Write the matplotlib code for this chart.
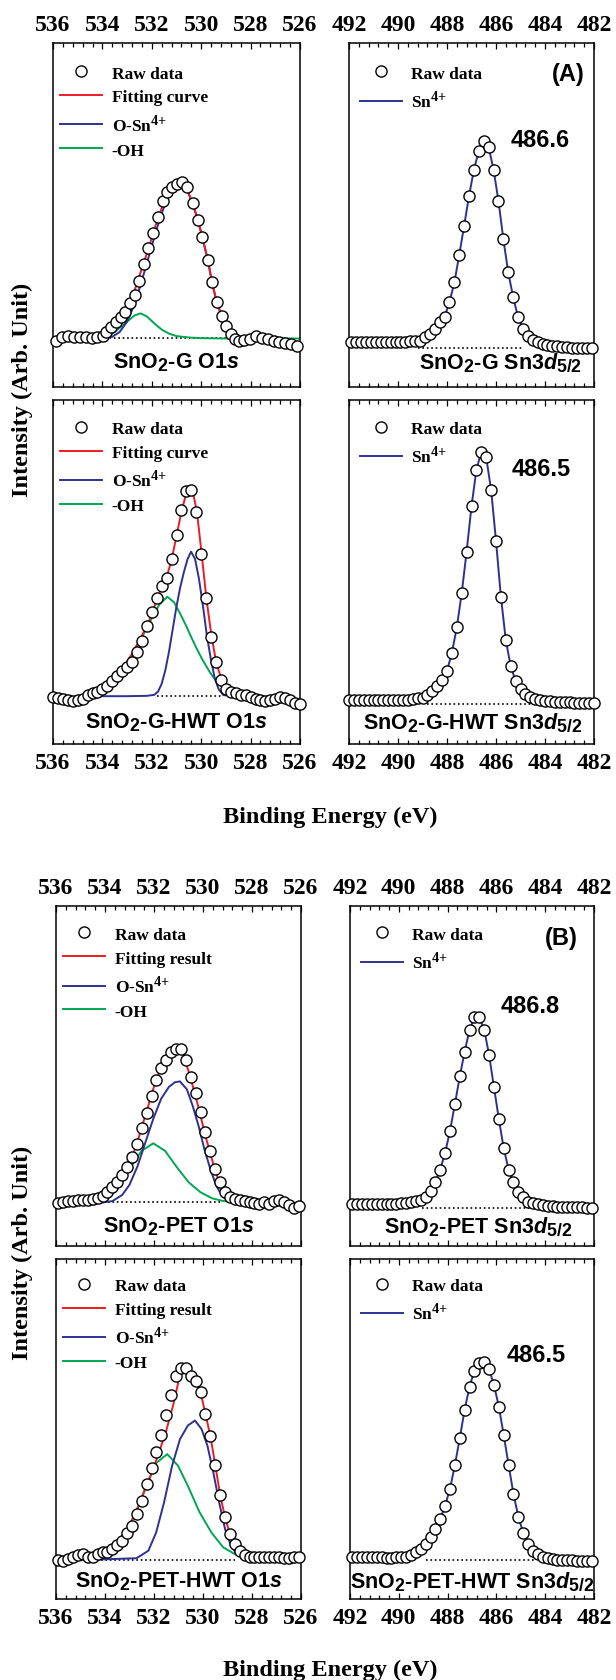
import matplotlib
matplotlib.use('Agg')
import matplotlib.pyplot as plt
import matplotlib._mathtext as mathtext_impl
from matplotlib.ticker import MultipleLocator

plt.rcParams['mathtext.fontset'] = 'custom'
plt.rcParams['mathtext.rm'] = 'Liberation Serif:bold'
plt.rcParams['mathtext.bf'] = 'Liberation Serif:bold'
plt.rcParams['mathtext.sf'] = 'Liberation Sans:bold'
plt.rcParams['mathtext.it'] = 'Liberation Sans:bold:italic'
# super/subscripts in the original are drawn nearly full size
mathtext_impl.SHRINK_FACTOR = 0.82

# ---- binding energy grids (eV) ----
be_o1s_g = [535.87, 535.63, 535.40, 535.16, 534.92, 534.68, 534.44, 534.20, 533.97, 533.86,
            533.65, 533.44, 533.25, 533.10, 532.89, 532.70, 532.51, 532.33, 532.14, 531.94,
            531.75, 531.54, 531.38, 531.19, 531.00, 530.79, 530.59, 530.35, 530.13, 529.95,
            529.73, 529.56, 529.37, 529.16, 529.00, 528.81, 528.65, 528.46, 528.25, 528.02,
            527.78, 527.54, 527.30, 527.06, 526.83, 526.59, 526.35, 526.14]
be_o1s_grid = [535.9, 535.7, 535.5, 535.3, 535.1, 534.9, 534.7, 534.5, 534.3, 534.1,
               533.9, 533.7, 533.5, 533.3, 533.1, 532.9, 532.7, 532.5, 532.3, 532.1,
               531.9, 531.7, 531.5, 531.3, 531.1, 530.9, 530.7, 530.5, 530.3, 530.1,
               529.9, 529.7, 529.5, 529.3, 529.1, 528.9, 528.7, 528.5, 528.3, 528.1,
               527.9, 527.7, 527.5, 527.3, 527.1, 526.9, 526.7, 526.5, 526.3, 526.1]
be_o1s_hwt = [536.0, 535.8, 535.6, 535.4, 535.2, 535.0, 534.8, 534.6, 534.4, 534.2,
              534.0, 533.8, 533.6, 533.4, 533.2, 533.0, 532.8, 532.6, 532.4, 532.2,
              532.0, 531.8, 531.6, 531.4, 531.2, 531.0, 530.8, 530.6, 530.4, 530.2,
              530.0, 529.8, 529.6, 529.4, 529.2, 529.0, 528.8, 528.6, 528.4, 528.2,
              528.0, 527.8, 527.6, 527.4, 527.2, 527.0, 526.8, 526.6, 526.4, 526.2, 526.0]
be_sn_grid = [491.9, 491.7, 491.5, 491.3, 491.1, 490.9, 490.7, 490.5, 490.3, 490.1,
              489.9, 489.7, 489.5, 489.3, 489.1, 488.9, 488.7, 488.5, 488.3, 488.1,
              487.9, 487.7, 487.5, 487.3, 487.1, 486.9, 486.7, 486.5, 486.3, 486.1,
              485.9, 485.7, 485.5, 485.3, 485.1, 484.9, 484.7, 484.5, 484.3, 484.1,
              483.9, 483.7, 483.5, 483.3, 483.1, 482.9, 482.7, 482.5, 482.3, 482.1]
be_sn_hwt = [492.0, 491.8, 491.6, 491.4, 491.2, 491.0, 490.8, 490.6, 490.4, 490.2,
             490.0, 489.8, 489.6, 489.4, 489.2, 489.0, 488.8, 488.6, 488.4, 488.2,
             488.0, 487.8, 487.6, 487.4, 487.2, 487.0, 486.8, 486.6, 486.4, 486.2,
             486.0, 485.8, 485.6, 485.4, 485.2, 485.0, 484.8, 484.6, 484.4, 484.2,
             484.0, 483.8, 483.6, 483.4, 483.2, 483.0, 482.8, 482.6, 482.4, 482.2, 482.0]

# ---- raw data (arb. units) ----
raw_o1s_g = [13.5, 14.4, 14.9, 14.4, 14.4, 14.4, 14.1, 14.4, 14.9, 15.9,
             17.3, 19.0, 20.3, 21.7, 24.4, 26.7, 30.8, 35.8, 40.3, 44.7,
             49.3, 54.2, 56.8, 58.0, 59.0, 59.7, 58.0, 53.5, 48.6, 43.5,
             37.0, 30.4, 24.8, 20.5, 17.8, 15.4, 14.0, 13.5, 13.8, 14.0,
             14.7, 14.1, 14.0, 13.5, 13.2, 12.8, 12.5, 11.8]
raw_sn_g = [13.0, 13.2, 13.2, 13.2, 13.2, 13.2, 13.2, 13.2, 13.2, 13.2,
            13.2, 13.2, 13.3, 13.3, 13.5, 14.4, 15.4, 16.9, 18.8, 20.4,
            24.6, 30.4, 38.4, 46.9, 55.6, 63.2, 68.7, 71.6, 69.7, 63.2,
            54.1, 43.0, 33.3, 26.1, 20.3, 16.9, 14.9, 13.8, 13.0, 12.5,
            12.2, 12.0, 11.8, 11.7, 11.5, 11.4, 11.4, 11.3, 11.3, 11.2]
raw_o1s_g_hwt = [13.6, 13.3, 13.1, 12.9, 12.6, 12.8, 13.1, 14.1, 14.8, 15.2,
                 16.0, 17.0, 18.4, 19.9, 21.3, 22.3, 23.7, 26.6, 30.0, 34.4,
                 38.3, 42.3, 46.0, 48.4, 53.8, 60.8, 68.1, 73.6, 73.9, 67.3,
                 55.2, 42.3, 31.2, 23.7, 18.7, 16.0, 15.0, 14.7, 14.2, 14.1,
                 13.6, 13.1, 12.9, 12.6, 12.9, 13.1, 13.6, 13.3, 12.9, 12.0, 11.6]
raw_sn_g_hwt = [12.8, 12.8, 12.8, 12.8, 12.8, 12.8, 12.8, 12.8, 12.8, 12.8,
                12.8, 12.8, 12.9, 13.1, 13.3, 13.5, 14.2, 15.5, 17.0, 18.7,
                21.3, 26.5, 33.9, 43.8, 55.9, 69.1, 79.7, 85.0, 83.3, 73.9,
                59.1, 42.8, 30.2, 22.6, 18.4, 16.0, 14.5, 13.6, 13.1, 12.8,
                12.6, 12.4, 12.3, 12.2, 12.1, 12.1, 12.0, 12.0, 12.0, 11.9, 11.8]
raw_o1s_pet = [12.6, 13.0, 13.3, 13.3, 13.5, 13.5, 13.6, 13.8, 14.0, 14.8,
               16.0, 17.3, 18.9, 20.9, 23.1, 26.1, 30.0, 34.6, 39.1, 44.2,
               48.9, 52.3, 54.8, 57.0, 57.9, 57.9, 54.8, 49.7, 45.0, 39.3,
               33.4, 28.0, 22.6, 18.7, 16.0, 14.5, 13.8, 13.5, 13.3, 12.8,
               12.6, 12.5, 12.8, 12.5, 13.3, 13.5, 13.0, 12.1, 11.1, 11.9]
raw_sn_pet = [12.5, 12.5, 12.5, 12.5, 12.5, 12.5, 12.5, 12.5, 12.5, 12.5,
              12.6, 12.6, 12.8, 13.1, 13.6, 14.5, 16.2, 18.7, 22.5, 27.5,
              33.9, 41.8, 49.9, 57.2, 63.6, 67.3, 67.3, 63.6, 56.2, 46.7,
              37.4, 28.7, 22.5, 18.7, 15.8, 14.3, 13.0, 12.6, 12.3, 12.0,
              11.8, 11.7, 11.6, 11.5, 11.5, 11.4, 11.4, 11.4, 11.3, 11.3]
raw_o1s_pet_hwt = [11.6, 11.3, 11.8, 12.3, 12.9, 13.2, 12.5, 12.3, 13.2, 13.9,
                   13.9, 14.7, 15.9, 17.2, 19.4, 21.6, 25.0, 28.9, 33.8, 38.4,
                   43.3, 48.2, 54.1, 60.0, 65.5, 67.9, 67.9, 65.7, 64.2, 60.8,
                   54.4, 48.0, 39.4, 30.6, 24.0, 19.1, 16.2, 14.2, 12.9, 12.3,
                   12.3, 12.3, 12.5, 12.5, 12.3, 12.3, 12.0, 12.0, 12.3, 12.5]
raw_sn_pet_hwt = [12.5, 12.5, 12.5, 12.3, 12.3, 12.3, 12.3, 12.1, 12.1, 12.3,
                  12.3, 12.5, 12.9, 13.7, 14.7, 16.2, 18.1, 20.6, 23.5, 27.5,
                  32.5, 39.4, 47.4, 55.7, 62.5, 67.2, 69.3, 69.6, 67.6, 62.9,
                  56.6, 48.2, 39.4, 30.9, 24.2, 19.4, 16.2, 14.2, 13.2, 12.5,
                  12.0, 11.8, 11.6, 11.6, 11.5, 11.5, 11.3, 11.3, 11.3, 11.3]

# ---- O1s fitted curves: (energy, intensity) ----
fit_g_x = [534.0, 533.6, 533.3, 533.0, 532.7, 532.4, 532.1, 531.8, 531.5, 531.2, 530.9,
           530.6, 530.35, 530.13, 529.95, 529.73, 529.56, 529.37, 529.16, 529.0, 528.81,
           528.6, 528.3, 528.0]
fit_g_y = [14.6, 16.8, 19.5, 23.0, 28.0, 34.5, 41.0, 48.0, 54.0, 57.8, 59.6,
           58.0, 53.5, 48.6, 43.5, 37.0, 30.4, 24.8, 20.5, 17.8, 15.6,
           14.6, 14.2, 14.1]
osn_g_x = [533.9, 533.6, 533.3, 533.0, 532.7, 532.4, 532.1, 531.8, 531.5, 531.2, 530.9,
           530.6, 530.35, 530.13, 529.95, 529.73, 529.56, 529.37, 529.16, 529.0, 528.81,
           528.6, 528.3, 528.0]
osn_g_y = [14.1, 14.6, 16.0, 19.0, 24.0, 31.0, 38.5, 46.0, 52.5, 57.0, 59.3,
           57.8, 53.3, 48.4, 43.3, 36.8, 30.2, 24.6, 20.3, 17.6, 15.4,
           14.4, 14.1, 14.1]
oh_g_x = [533.9, 533.5, 533.0, 532.7, 532.45, 532.2, 531.9, 531.6, 531.3, 531.0,
          530.5, 530.0, 529.0, 528.0, 527.0, 526.0]
oh_g_y = [14.1, 16.0, 19.0, 20.8, 21.4, 20.5, 18.5, 16.7, 15.5, 14.8,
          14.4, 14.2, 14.1, 14.1, 14.1, 14.1]

fit_g_hwt_x = [534.5, 534.0, 533.6, 533.2, 532.8, 532.4, 532.0, 531.8, 531.6, 531.4, 531.2,
               531.0, 530.8, 530.6, 530.45, 530.3, 530.17, 529.98, 529.79, 529.58, 529.39,
               529.18, 528.99, 528.7, 528.4]
fit_g_hwt_y = [14.0, 15.7, 18.2, 21.8, 26.2, 31.5, 37.5, 42.0, 45.5, 48.5, 53.5,
               60.5, 67.5, 73.0, 74.2, 72.0, 67.3, 55.2, 42.3, 31.2, 23.7,
               18.7, 16.0, 14.8, 14.3]
osn_g_hwt_x = [534.2, 533.0, 532.2, 531.9, 531.75, 531.6, 531.45, 531.3, 531.15, 531.0,
               530.85, 530.7, 530.55, 530.41, 530.25, 530.09, 529.93, 529.77, 529.61,
               529.46, 529.3, 529.1, 528.7]
osn_g_hwt_y = [13.9, 13.9, 14.0, 14.3, 15.2, 17.5, 21.5, 27.0, 33.5, 40.0,
               45.5, 50.0, 53.8, 55.9, 53.8, 48.0, 40.2, 31.5, 24.7,
               19.4, 16.0, 14.2, 14.0]
oh_g_hwt_x = [534.5, 534.0, 533.6, 533.2, 532.8, 532.4, 532.0, 531.7, 531.37, 531.1, 530.86,
              530.6, 530.38, 530.2, 529.98, 529.66, 529.42, 529.2, 528.9, 528.6, 528.3]
oh_g_hwt_y = [14.0, 15.5, 18.0, 21.5, 26.0, 31.0, 36.5, 40.5, 42.8, 41.2, 38.0,
              34.2, 30.7, 28.0, 24.9, 21.0, 18.5, 17.0, 15.8, 15.0, 14.5]

fit_pet_x = [534.3, 534.0, 533.7, 533.5, 533.3, 533.1, 532.9, 532.7, 532.5, 532.3, 532.1,
             531.9, 531.7, 531.5, 531.3, 531.1, 530.95, 530.8, 530.53, 530.34, 530.13,
             529.94, 529.73, 529.52, 529.33, 529.14, 528.93, 528.73, 528.5]
fit_pet_y = [14.0, 15.5, 17.5, 19.0, 21.0, 23.2, 26.0, 30.0, 35.0, 39.5, 44.7,
             49.0, 52.6, 55.2, 57.0, 58.0, 58.0, 56.2, 50.0, 45.0, 39.3,
             33.4, 28.0, 22.6, 18.7, 16.0, 14.5, 13.8, 13.5]
osn_pet_x = [534.1, 533.7, 533.3, 533.0, 532.67, 532.35, 532.03, 531.71, 531.39, 531.14,
             530.94, 530.66, 530.42, 530.18, 529.94, 529.7, 529.46, 529.22, 529.0, 528.7]
osn_pet_y = [12.8, 13.2, 15.0, 18.0, 23.5, 30.5, 37.4, 43.3, 46.8, 48.2,
             48.4, 46.1, 41.2, 35.3, 28.4, 22.6, 17.7, 14.8, 13.3, 12.8]
oh_pet_x = [534.1, 533.8, 533.48, 533.0, 532.51, 532.03, 531.55, 531.06, 530.58, 530.1,
            529.62, 529.22, 528.9]
oh_pet_y = [13.0, 14.5, 16.8, 22.6, 28.0, 30.2, 28.0, 23.1, 18.7, 15.8, 14.0, 13.3, 13.0]

fit_pet_hwt_x = [534.4, 534.0, 533.6, 533.3, 533.0, 532.7, 532.4, 532.1, 531.8, 531.5, 531.2,
                 531.0, 530.85, 530.7, 530.5, 530.3, 530.1, 529.9, 529.7, 529.5, 529.3,
                 529.1, 528.9, 528.7, 528.5, 528.3]
fit_pet_hwt_y = [13.5, 14.2, 16.0, 18.5, 21.8, 26.0, 31.5, 37.0, 43.0, 49.5, 57.5,
                 64.0, 67.0, 67.5, 66.0, 64.0, 60.8, 54.4, 48.0, 39.4, 30.6,
                 24.0, 19.1, 16.2, 14.2, 13.0]
osn_pet_hwt_x = [534.31, 532.71, 532.23, 531.91, 531.59, 531.26, 530.94, 530.62, 530.33,
                 530.06, 529.82, 529.58, 529.34, 529.1, 528.86, 528.62]
osn_pet_hwt_y = [11.6, 12.0, 14.2, 19.6, 28.4, 39.2, 47.0, 51.0, 52.5,
                 50.0, 45.1, 37.3, 28.4, 20.6, 15.7, 13.2]
oh_pet_hwt_x = [534.5, 534.0, 533.5, 533.0, 532.63, 532.31, 531.91, 531.46, 531.02, 530.62,
                530.14, 529.66, 529.18, 528.7, 528.3]
oh_pet_hwt_y = [12.5, 14.0, 16.5, 21.5, 27.5, 33.5, 40.0, 42.6, 39.2, 33.3,
                25.5, 19.6, 15.2, 13.2, 12.5]

# background lines (start, end, level)
base_o1s = {'g': (533.9, 527.6, 14.1), 'g_hwt': (531.8, 529.2, 13.9),
            'pet': (533.88, 529.22, 13.0), 'pet_hwt': (534.15, 528.7, 11.6)}
base_sn = {'g': (489.2, 484.9, 11.2), 'g_hwt': (488.8, 484.5, 11.6),
           'pet': (489.06, 484.65, 11.1), 'pet_hwt': (488.87, 484.45, 11.5)}
# energy window covered by the Sn4+ fit
sn_fit_win = {'g': (489.3, 484.1), 'g_hwt': (489.2, 484.0),
              'pet': (489.3, 484.3), 'pet_hwt': (489.1, 484.3)}

peak_pos = ['486.6', '486.5', '486.8', '486.5']

RED = '#ed1c24'
BLUE = '#2e3192'
GREEN = '#00a651'
SERIF = 'Liberation Serif'
SANS = 'Liberation Sans'
SN4 = r'$^{\mathrm{4}{+}}$'

W, H = 616, 1681
fig = plt.figure(figsize=(W / 100, H / 100), dpi=100)


def make_ax(x0, x1, y0, y1, xlim, top_labels):
    ax = fig.add_axes([x0 / W, 1 - y1 / H, (x1 - x0) / W, (y1 - y0) / H])
    ax.set_xlim(*xlim)
    ax.set_ylim(0, 100)
    ax.set_yticks([])
    ax.xaxis.set_major_locator(MultipleLocator(2))
    ax.xaxis.set_minor_locator(MultipleLocator(0.4))
    ax.tick_params(axis='x', which='both', direction='in', top=True, bottom=True,
                   labeltop=top_labels, labelbottom=not top_labels, width=0.9)
    ax.tick_params(axis='x', which='major', length=4.5, pad=6)
    ax.tick_params(axis='x', which='minor', length=2.8)
    for lab in ax.get_xticklabels():
        lab.set_fontfamily(SERIF)
        lab.set_fontweight('bold')
        lab.set_fontsize(17)
    for s in ax.spines.values():
        s.set_linewidth(1.1)
    return ax


def raw(ax, x, y):
    return ax.plot(x, y, 'o', ms=8, mfc='white', mec='black', mew=1.0,
                   clip_on=False, zorder=4)[0]


LEG = dict(loc='upper left', frameon=False, numpoints=1, handlelength=2.4,
           handletextpad=0.55, labelspacing=0.45, borderpad=0, borderaxespad=0,
           prop={'family': SERIF, 'weight': 'bold', 'size': 12.5})


def o1s_panel(ax, be, y, fit, osn, oh, base, fit_name, label, ly, leg_y):
    b0, b1, lev = base
    ax.plot([b0, b1], [lev, lev], ls=':', color='black', lw=1.2, zorder=1)
    hg, = ax.plot(oh[0], oh[1], color=GREEN, lw=1.4, zorder=2)
    hb, = ax.plot(osn[0], osn[1], color=BLUE, lw=1.4, zorder=2)
    hr, = ax.plot(fit[0], fit[1], color=RED, lw=1.4, zorder=3)
    hraw = raw(ax, be, y)
    ax.legend([hraw, hr, hb, hg], ['Raw data', fit_name, 'O-Sn' + SN4, '-OH'],
              bbox_to_anchor=(0.03, leg_y), **LEG)
    ax.text(0.5, ly, label, transform=ax.transAxes, ha='center', va='center',
            family=SANS, weight='bold', fontsize=15.5)


def sn_panel(ax, be, y, win, base, peak, pxy, label, lx, ly, ha, leg_y):
    b0, b1, lev = base
    ax.plot([b0, b1], [lev, lev], ls=':', color='black', lw=1.2, zorder=1)
    fx = [e for e in be if win[1] <= e <= win[0]]
    fy = [v for e, v in zip(be, y) if win[1] <= e <= win[0]]
    hb, = ax.plot(fx, fy, color=BLUE, lw=1.4, zorder=2)
    hraw = raw(ax, be, y)
    ax.legend([hraw, hb], ['Raw data', 'Sn' + SN4], bbox_to_anchor=(0.045, leg_y), **LEG)
    ax.text(pxy[0], pxy[1], peak, ha='center', va='center',
            family=SANS, weight='bold', fontsize=17)
    ax.text(lx, ly, label, transform=ax.transAxes, ha=ha, va='center',
            family=SANS, weight='bold', fontsize=15.5)


O1S = (536, 526)
SN = (492, 482)

# ---- (A) SnO2-G ----
a1 = make_ax(53, 300, 44, 388, O1S, True)
o1s_panel(a1, be_o1s_g, raw_o1s_g, (fit_g_x, fit_g_y), (osn_g_x, osn_g_y), (oh_g_x, oh_g_y),
          base_o1s['g'], 'Fitting curve', r'SnO$_{\mathsf{2}}$-G O1$\mathit{s}$', 0.073, 0.935)
a2 = make_ax(349, 594, 44, 388, SN, True)
sn_panel(a2, be_sn_grid, raw_sn_g, sn_fit_win['g'], base_sn['g'], peak_pos[0], (484.19, 72),
         r'SnO$_{\mathsf{2}}$-G Sn3$\mathit{d}_{\mathsf{5/2}}$', 0.951, 0.073, 'right', 0.935)
a2.text(483.04, 91, '(A)', ha='center', va='center', family=SANS, weight='bold', fontsize=17)

a3 = make_ax(53, 300, 401, 745, O1S, False)
o1s_panel(a3, be_o1s_hwt, raw_o1s_g_hwt, (fit_g_hwt_x, fit_g_hwt_y),
          (osn_g_hwt_x, osn_g_hwt_y), (oh_g_hwt_x, oh_g_hwt_y),
          base_o1s['g_hwt'], 'Fitting curve', r'SnO$_{\mathsf{2}}$-G-HWT O1$\mathit{s}$', 0.064, 0.94)
a4 = make_ax(349, 594, 401, 745, SN, False)
sn_panel(a4, be_sn_hwt, raw_sn_g_hwt, sn_fit_win['g_hwt'], base_sn['g_hwt'], peak_pos[1],
         (484.15, 80), r'SnO$_{\mathsf{2}}$-G-HWT Sn3$\mathit{d}_{\mathsf{5/2}}$',
         0.951, 0.064, 'right', 0.94)

# ---- (B) SnO2-PET ----
b1 = make_ax(56, 301, 907, 1247, O1S, True)
o1s_panel(b1, be_o1s_grid, raw_o1s_pet, (fit_pet_x, fit_pet_y), (osn_pet_x, osn_pet_y),
          (oh_pet_x, oh_pet_y), base_o1s['pet'], 'Fitting result',
          r'SnO$_{\mathsf{2}}$-PET O1$\mathit{s}$', 0.059, 0.94)
b2 = make_ax(350, 594, 907, 1247, SN, True)
sn_panel(b2, be_sn_grid, raw_sn_pet, sn_fit_win['pet'], base_sn['pet'], peak_pos[2],
         (484.62, 70.7), r'SnO$_{\mathsf{2}}$-PET Sn3$\mathit{d}_{\mathsf{5/2}}$',
         0.527, 0.059, 'center', 0.94)
b2.text(483.36, 90.8, '(B)', ha='center', va='center', family=SANS, weight='bold', fontsize=17)

b3 = make_ax(56, 301, 1260, 1600, O1S, False)
o1s_panel(b3, be_o1s_grid, raw_o1s_pet_hwt, (fit_pet_hwt_x, fit_pet_hwt_y),
          (osn_pet_hwt_x, osn_pet_hwt_y), (oh_pet_hwt_x, oh_pet_hwt_y),
          base_o1s['pet_hwt'], 'Fitting result',
          r'SnO$_{\mathsf{2}}$-PET-HWT O1$\mathit{s}$', 0.053, 0.945)
b4 = make_ax(350, 594, 1260, 1600, SN, False)
sn_panel(b4, be_sn_grid, raw_sn_pet_hwt, sn_fit_win['pet_hwt'], base_sn['pet_hwt'], peak_pos[3],
         (484.36, 72), r'SnO$_{\mathsf{2}}$-PET-HWT Sn3$\mathit{d}_{\mathsf{5/2}}$',
         0.5, 0.053, 'center', 0.945)

# ---- shared axis titles ----
for yc in (390, 1253):
    fig.text(22 / W, 1 - yc / H, 'Intensity (Arb. Unit)', rotation=90, ha='center', va='center',
             family=SERIF, weight='bold', fontsize=17.5)
for yc in (817, 1670):
    fig.text(330 / W, 1 - yc / H, 'Binding Energy (eV)', ha='center', va='center',
             family=SERIF, weight='bold', fontsize=17.5)

fig.savefig('out.png', dpi=100)
